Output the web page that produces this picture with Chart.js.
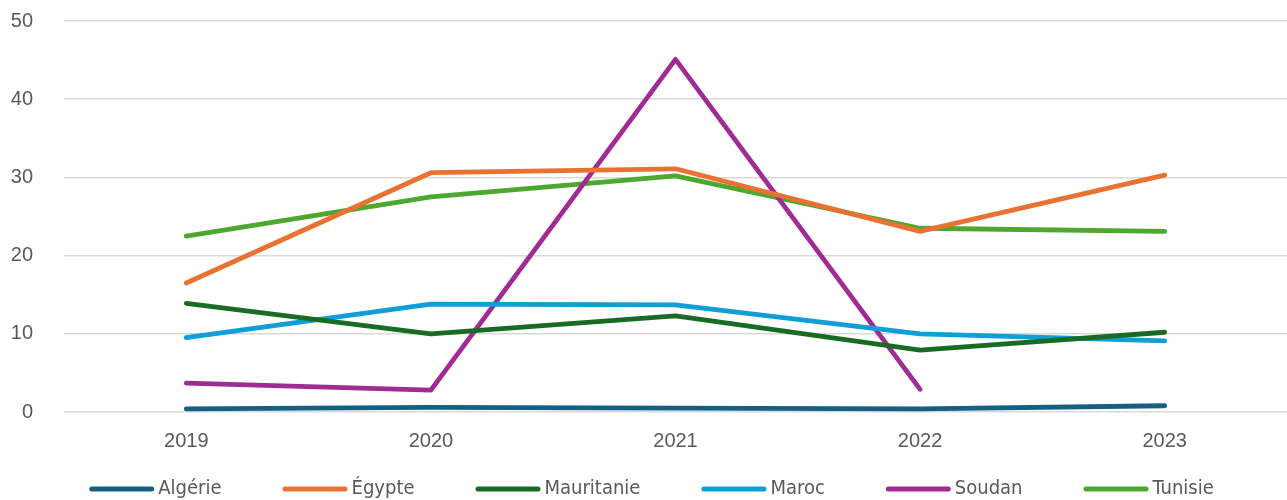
<!DOCTYPE html>
<html>
<head>
<meta charset="utf-8">
<script src="https://cdn.jsdelivr.net/npm/chart.js@4/dist/chart.umd.min.js"></script>
<style>
  html, body { margin: 0; padding: 0; background: #fff; }
  #wrap { width: 1287px; height: 500px; }
</style>
</head>
<body>
<div id="wrap"><canvas id="myChart"></canvas></div>
<script>
const years = ["2019", "2020", "2021", "2022", "2023"];

const algerie = [0.4, 0.6, 0.5, 0.4, 0.8];
const egypte = [16.5, 30.6, 31.1, 23.1, 30.3];
const mauritanie = [13.9, 10.0, 12.3, 7.9, 10.2];
const maroc = [9.5, 13.8, 13.7, 10.0, 9.1];
const soudan = [3.7, 2.8, 45.1, 2.9, null];
const tunisie = [22.5, 27.5, 30.2, 23.5, 23.1];

const yTicks = [0, 10, 20, 30, 40, 50];

function serie(label, values, color) {
  return {
    label: label,
    data: values,
    borderColor: color,
    backgroundColor: color,
    borderWidth: 4.8,
    borderCapStyle: "round",
    borderJoinStyle: "round",
    pointRadius: 0,
    pointHoverRadius: 0,
    tension: 0,
  };
}

// legend drawn by hand, Excel style (long line + text)
const excelLegend = {
  id: "excelLegend",
  afterDraw(chart) {
    const ctx = chart.ctx;
    const font = "20px 'Liberation Sans Narrow', 'DejaVu Sans Condensed', sans-serif";
    const lineLen = 65;
    const gapText = 4;
    const gapItem = 61;
    const y = 489;
    ctx.save();
    ctx.font = font;
    const items = chart.data.datasets.map((ds) => ({
      text: ds.label,
      color: ds.borderColor,
      w: ctx.measureText(ds.label).width,
    }));
    let total = 0;
    items.forEach((it, i) => {
      total += lineLen + gapText + it.w + (i < items.length - 1 ? gapItem : 0);
    });
    let x = (chart.width - total) / 2 + 8;
    items.forEach((it) => {
      ctx.strokeStyle = it.color;
      ctx.lineWidth = 5;
      ctx.lineCap = "round";
      ctx.beginPath();
      ctx.moveTo(x + 2.5, y);
      ctx.lineTo(x + lineLen - 2.5, y);
      ctx.stroke();
      ctx.fillStyle = "#595959";
      ctx.textBaseline = "middle";
      ctx.textAlign = "left";
      ctx.fillText(it.text, x + lineLen + gapText, y);
      x += lineLen + gapText + it.w + gapItem;
    });
    ctx.restore();
  },
};

const data = {
  labels: years,
  datasets: [
    serie("Algérie", algerie, "#156082"),
    serie("Égypte", egypte, "#E97132"),
    serie("Mauritanie", mauritanie, "#196B24"),
    serie("Maroc", maroc, "#0F9ED5"),
    serie("Soudan", soudan, "#A02B93"),
    serie("Tunisie", tunisie, "#4EA72E"),
  ],
};

const config = {
  type: "line",
  data: data,
  plugins: [excelLegend],
  options: {
    responsive: true,
    maintainAspectRatio: false,
    animation: false,
    layout: {
      padding: { left: 0, right: 0, top: 21, bottom: 0 },
    },
    scales: {
      x: {
        offset: true,
        grid: { display: false, drawTicks: false },
        border: { display: false },
        afterFit: (axis) => {
          axis.height = 88;
        },
        ticks: {
          color: "#595959",
          padding: 17,
          font: { size: 20, family: "'Liberation Sans', Arial, sans-serif" },
        },
      },
      y: {
        min: 0,
        max: 50,
        afterBuildTicks: (axis) => {
          axis.ticks = yTicks.map((v) => ({ value: v }));
        },
        afterFit: (axis) => {
          axis.width = 64;
          axis.paddingTop = 0;
        },
        grid: { color: "#d9d9d9", lineWidth: 1.5, drawTicks: false },
        border: { display: false },
        ticks: {
          color: "#595959",
          padding: 31,
          font: { size: 20, family: "'Liberation Sans', Arial, sans-serif" },
        },
      },
    },
    plugins: {
      legend: { display: false },
      tooltip: { enabled: false },
    },
  },
};

const myChart = new Chart(document.getElementById("myChart"), config);
</script>
</body>
</html>
